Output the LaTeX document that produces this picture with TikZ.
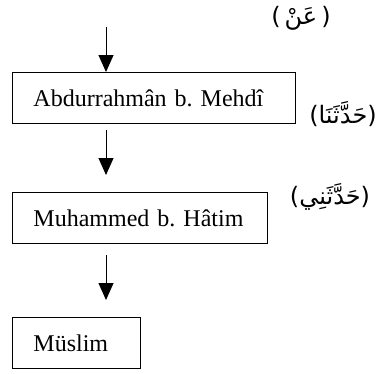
\documentclass[tikz,border=0pt]{standalone}
\usepackage{fontspec}
\setmainfont{Liberation Serif}
\newfontfamily\arabicfont[Script=Arabic]{DejaVu Sans}
\TeXXeTstate=1
\frenchspacing
\usepackage{tikz}
\usetikzlibrary{positioning,arrows.meta}

\tikzset{
    namebox/.style={draw, line width=0.9pt, anchor=north west, minimum height=51pt,
        inner xsep=21pt, inner ysep=0pt, align=left, font=\fontsize{24}{28}\selectfont},
    chainarrow/.style={line width=0.9pt, -{Triangle[length=17pt,width=15pt]}},
    wordlabel/.style={font=\arabicfont\fontsize{24}{30}\selectfont}
}

\begin{document}
\begin{tikzpicture}[x=1pt, y=-1pt]

\useasboundingbox (0,0) rectangle (379,373);

% Boxes (text width = box width - 42pt)
\node[namebox, text width=241pt] (mehdi) at (12,72) {\makebox[\linewidth][l]{Abdurrahmân b. Mehdî}};
\node[namebox, text width=213pt] (hatim) at (12,192) {\makebox[\linewidth][l]{Muhammed b. Hâtim}};
\node[namebox, text width=86pt] (muslim) at (12,317) {\makebox[\linewidth][l]{Müslim}};

% Arrow ends
\coordinate (top) at (106,27);
\coordinate (a2) at (106,130);
\coordinate (b2) at (106,175);
\coordinate (a3) at (106,255);
\coordinate (b3) at (106,300);

% Arrows
\draw[chainarrow] (top) -- (top |- mehdi.north);
\draw[chainarrow] (a2) -- (b2);
\draw[chainarrow] (a3) -- (b3);

% Labels
\node[wordlabel] (an) at (301,18) {\beginR(\,عَنْ\,)\endR};
\node[wordlabel] (haddesena) at (343,114) {\beginR(حَدَّثَنَا)\endR};
\node[wordlabel] (haddeseni) at (330,197) {\beginR(حَدَّثَنِي)\endR};

\end{tikzpicture}
\end{document}
